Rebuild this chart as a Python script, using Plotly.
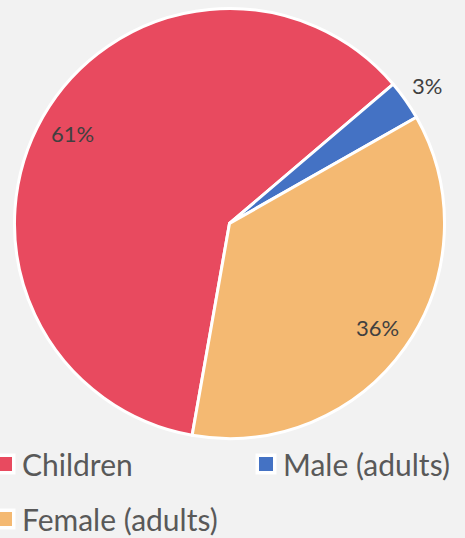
import math
import plotly.graph_objects as go

# Population breakdown
labels = ["Children", "Male (adults)", "Female (adults)"]
values = [61, 3, 36]
colors = ["#E84A5F", "#4472C4", "#F4B972"]

W, H = 465, 538
BG = "#F2F2F2"
FONT = "Lato, 'Open Sans', sans-serif"

# Pie geometry in pixels
cx, cy, R = 229.5, 223.5, 215.0
rotation = 190.0

# Radial placement of the percentage labels (fraction of radius)
label_r = [0.84, 1.12, 0.84]

# Legend layout in pixels: (square centre x, centre y)
legend_pos = [(5, 464), (266, 464), (5, 519)]


def px(x):
    return x / W


def py(y):
    return 1 - y / H


fig = go.Figure(
    go.Pie(
        labels=labels,
        values=values,
        sort=False,
        direction="clockwise",
        rotation=rotation,
        marker=dict(colors=colors, line=dict(color="white", width=3)),
        textinfo="none",
        hoverinfo="label+percent",
        showlegend=False,
        domain=dict(x=[px(cx - R), px(cx + R)], y=[py(cy + R), py(cy - R)]),
    )
)

annotations = []
shapes = []

total = sum(values)
start = rotation
for lab, v, col, fr, (lx, ly) in zip(labels, values, colors, label_r, legend_pos):
    span = 360.0 * v / total
    mid = math.radians(start + span / 2)
    start += span
    tx = cx + R * fr * math.sin(mid)
    ty = cy - R * fr * math.cos(mid)
    annotations.append(
        dict(
            x=px(tx), y=py(ty), xref="paper", yref="paper",
            text=f"{round(100 * v / total)}%", showarrow=False,
            xanchor="center", yanchor="middle",
            font=dict(family=FONT, size=22, color="#404040"),
        )
    )
    # legend swatch: white box with coloured square inside
    shapes.append(dict(type="rect", xref="paper", yref="paper",
                       x0=px(lx - 10.5), x1=px(lx + 10.5),
                       y0=py(ly + 10.5), y1=py(ly - 10.5),
                       fillcolor="white", line=dict(width=0)))
    shapes.append(dict(type="rect", xref="paper", yref="paper",
                       x0=px(lx - 7), x1=px(lx + 7),
                       y0=py(ly + 7), y1=py(ly - 7),
                       fillcolor=col, line=dict(width=0)))
    annotations.append(
        dict(
            x=px(lx + 15), y=py(ly), xref="paper", yref="paper",
            text=lab, showarrow=False, xanchor="left", yanchor="middle",
            font=dict(family=FONT, size=30, color="#595959"),
        )
    )

fig.update_layout(
    width=W, height=H,
    margin=dict(l=0, r=0, t=0, b=0),
    paper_bgcolor=BG, plot_bgcolor=BG,
    annotations=annotations, shapes=shapes,
)

fig.write_html("out.html", config=dict(displayModeBar=False))
